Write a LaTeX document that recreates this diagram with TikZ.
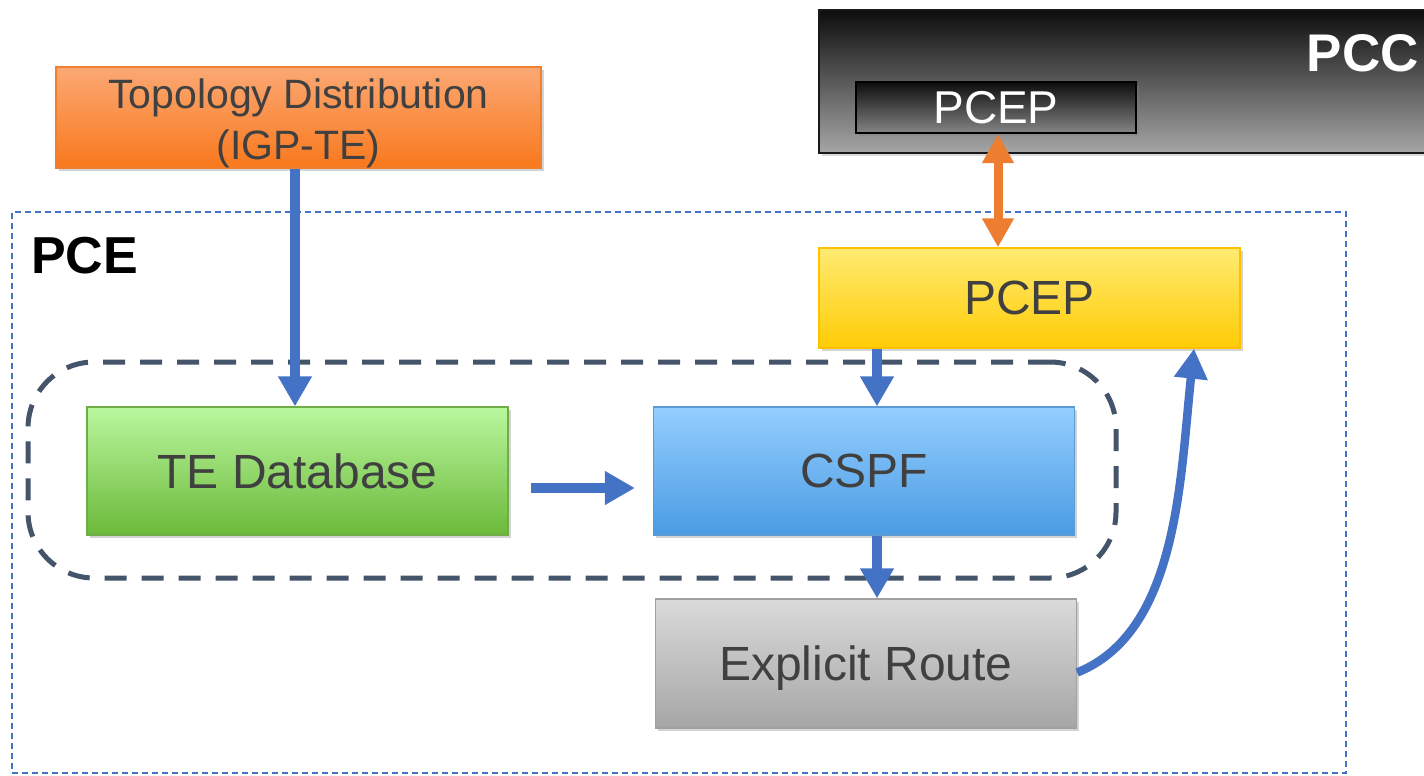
\documentclass[tikz,border=0pt]{standalone}
\usepackage{fontspec}
\setmainfont{Liberation Sans}
\usetikzlibrary{arrows.meta,shadows}
\definecolor{txt}{HTML}{404040}
\definecolor{ablue}{HTML}{4472C4}
\definecolor{aorange}{HTML}{ED7D31}
\definecolor{slate}{HTML}{44546A}
\definecolor{orT}{HTML}{FBA874}
\definecolor{orB}{HTML}{F9781C}
\definecolor{orD}{HTML}{F08030}
\definecolor{yeT}{HTML}{FFEB72}
\definecolor{yeB}{HTML}{FFCB05}
\definecolor{yeD}{HTML}{FFC000}
\definecolor{grT}{HTML}{BAF79E}
\definecolor{grB}{HTML}{6BB93A}
\definecolor{grD}{HTML}{70AD47}
\definecolor{blT}{HTML}{94CEFF}
\definecolor{blB}{HTML}{4A9BE3}
\definecolor{blD}{HTML}{5B9BD5}
\definecolor{gyT}{HTML}{DADADA}
\definecolor{gyB}{HTML}{A6A6A6}
\definecolor{gyD}{HTML}{A0A0A0}
\begin{document}
\begin{tikzpicture}[x=1pt,y=-1pt,
  box/.style={draw, line width=1.3pt, inner sep=0pt, text=txt,
    font=\fontsize{48}{52}\selectfont, text depth=0pt,
    drop shadow={opacity=0.35, shadow xshift=2.5pt, shadow yshift=-3pt}},
  flow/.style={-{Triangle[width=32pt,length=30pt]}, line width=10pt, ablue},
  oflow/.style={{Triangle[width=30pt,length=29pt]}-{Triangle[width=30pt,length=29pt]}, line width=9pt, aorange},
]
\useasboundingbox (0,0) rectangle (1424,776);
\clip (0,0) rectangle (1424,776);

% PCE region
\node[draw=ablue, line width=1.5pt, dash pattern=on 6pt off 4pt,
  minimum width=1334pt, minimum height=561pt, inner sep=0pt] (pce) at (679,492.5) {};
\node[anchor=west, font=\fontsize{52}{56}\bfseries\selectfont, inner sep=0pt] (pcelbl) at (31,256) {PCE};

% grouping dashed rounded rectangle
\node[draw=slate, line width=5pt, dash pattern=on 22pt off 15pt, rounded corners=66pt,
  minimum width=1088pt, minimum height=216pt, inner sep=0pt] (grp) at (572,470) {};

% PCC
\node[draw=black!90, line width=1.5pt, top color=black!95, bottom color=gyB,
  minimum width=621pt, minimum height=143pt, inner sep=0pt,
  drop shadow={opacity=0.3, shadow xshift=2.5pt, shadow yshift=-3pt}] (pcc) at (1129.5,81.5) {};
\node[anchor=east, text=white, font=\fontsize{53}{56}\bfseries\selectfont, inner sep=0pt] (pcclbl) at (1419,53) {PCC};
\node[draw=black, line width=2pt, top color=black!95, bottom color=black!48,
  minimum width=280pt, minimum height=51pt, inner sep=0pt, text=white,
  font=\fontsize{46}{50}\selectfont, text depth=0pt,
  drop shadow={opacity=0.35, shadow xshift=2.5pt, shadow yshift=-3pt}] (pccpcep) at (996,107.5) {PCEP};

% boxes
\node[box, draw=orD, top color=orT, bottom color=orB, minimum width=485pt, minimum height=101pt,
  align=center, font=\fontsize{41}{51}\selectfont, text height=83pt, text depth=0pt] (topo) at (298.5,117.5) {Topology Distribution\\(IGP-TE)};
\node[box, draw=yeD, top color=yeT, bottom color=yeB, minimum width=421pt, minimum height=100pt] (pcep) at (1029.5,298) {PCEP};
\node[box, draw=grD, top color=grT, bottom color=grB, minimum width=421pt, minimum height=128pt] (te) at (297.5,471) {TE Database};
\node[box, draw=blD, top color=blT, bottom color=blB, minimum width=421pt, minimum height=128pt] (cspf) at (864,471) {CSPF};
\node[box, draw=gyD, top color=gyT, bottom color=gyB, minimum width=421pt, minimum height=129pt] (route) at (866,663.5) {Explicit Route};

% helper x positions
\coordinate (tx) at (295,0);
\coordinate (cx) at (877,0);
\coordinate (ox) at (998,0);
\coordinate (rx) at (1194,0);

% connectors
\draw[flow] (topo.south -| tx) -- (te.north -| tx);
\draw[flow, shorten <=22pt, shorten >=18pt] ([yshift=-17pt]te.east) -- ([yshift=-17pt]cspf.west);
\draw[flow] (pcep.south -| cx) -- (cspf.north -| cx);
\draw[flow] (cspf.south -| cx) -- (route.north -| cx);
\draw[oflow] (pccpcep.south -| ox) -- (pcep.north -| ox);
\draw[flow, line width=8.5pt] ([yshift=-9pt]route.east) .. controls (1178,632) and (1180,480) .. (pcep.south -| rx);
\end{tikzpicture}
\end{document}
